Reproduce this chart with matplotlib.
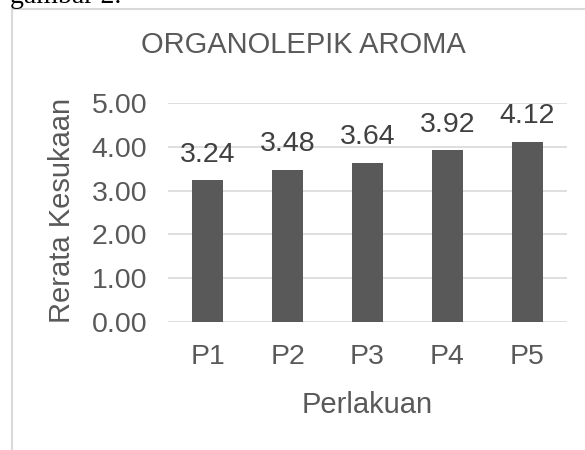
import matplotlib.pyplot as plt
from matplotlib.lines import Line2D
import numpy as np

perlakuan = ['P1', 'P2', 'P3', 'P4', 'P5']
rerata = [3.24, 3.48, 3.64, 3.92, 4.12]
yticks = [0, 1, 2, 3, 4, 5]

abu = '#595959'
grid = '#d9d9d9'
plt.rcParams['font.family'] = ['Liberation Sans', 'DejaVu Sans']

fig = plt.figure(figsize=(5.85, 4.5), dpi=100)
ax = fig.add_axes([168 / 585, 1 - 322 / 450, 399 / 585, 219 / 450])

x = np.arange(len(perlakuan))
bars = ax.bar(x, rerata, width=0.39, color=abu, zorder=3)
for b, v in zip(bars, rerata):
    ax.annotate(f'{v:.2f}', (b.get_x() + b.get_width() / 2, v),
                xytext=(0, 9), textcoords='offset points',
                ha='center', va='bottom', fontsize=20.5, color='#404040')

ax.set_xlim(-0.5, len(perlakuan) - 0.5)
ax.set_ylim(0, 5)
ax.set_yticks(yticks)
ax.set_yticklabels([f'{t:.2f}' for t in yticks])
ax.set_xticks(x)
ax.set_xticklabels(perlakuan)
ax.tick_params(axis='both', length=0, labelsize=20.5, labelcolor=abu)
ax.tick_params(axis='x', pad=16)
ax.tick_params(axis='y', pad=15)
ax.grid(axis='y', color=grid, linewidth=1.2, zorder=0)
for s in ax.spines.values():
    s.set_visible(False)

fig.text(303 / 585, 1 - 45 / 450, 'ORGANOLEPIK AROMA', ha='center', va='center',
         fontsize=21, color=abu)
fig.text(62 / 585, 1 - 210 / 450, 'Rerata Kesukaan', rotation=90, ha='center',
         va='center', fontsize=21, color=abu)
fig.text(367 / 585, 1 - 405 / 450, 'Perlakuan', ha='center', va='center',
         fontsize=21, color=abu)

# bingkai grafik dan sisa teks di atasnya
fig.add_artist(Line2D([12 / 585, 12 / 585], [0, 1 - 9 / 450], color=grid, lw=1.5))
fig.add_artist(Line2D([12 / 585, 1], [1 - 9 / 450, 1 - 9 / 450], color=grid, lw=1.5))
fig.text(10 / 585, 1 - 3 / 450, 'gambar 2.', ha='left', va='baseline',
         fontsize=20, color='black', family='Liberation Serif')

fig.savefig('out.png', dpi=100)
